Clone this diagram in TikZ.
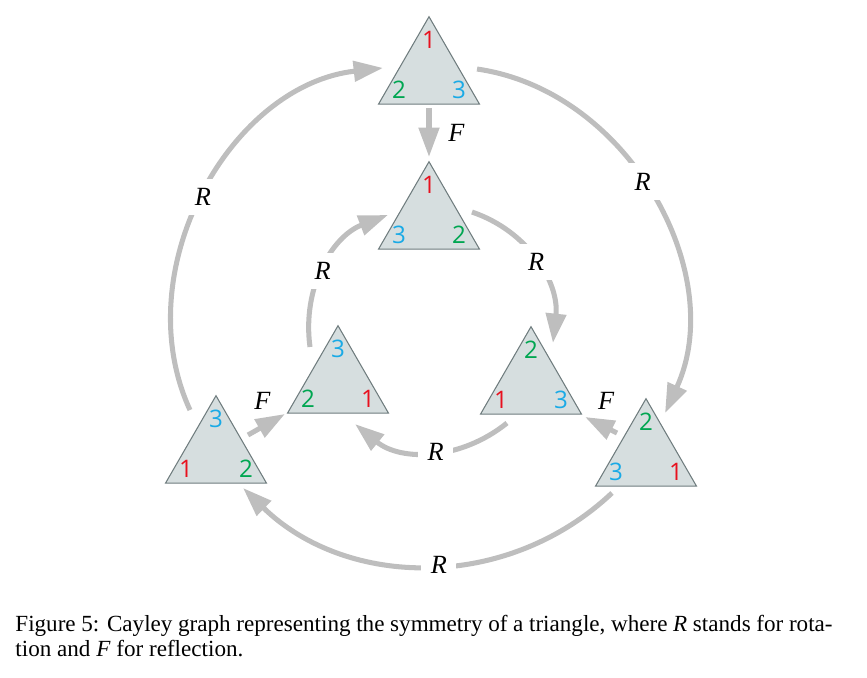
\documentclass[tikz,border=0pt]{standalone}
\usepackage{fontspec}
\setmainfont{Liberation Serif}
\newfontfamily\digitfont{Open Sans}
\usetikzlibrary{arrows.meta,shapes.geometric}
\definecolor{arrgray}{HTML}{BEBEBE}
\definecolor{trifill}{HTML}{D6DEDF}
\definecolor{triedge}{HTML}{6F7C7E}
\definecolor{dred}{HTML}{E8101E}
\definecolor{dgreen}{HTML}{00A651}
\definecolor{dcyan}{HTML}{1AAAE6}
\newcommand\cone{\textcolor{dred}{1}}
\newcommand\ctwo{\textcolor{dgreen}{2}}
\newcommand\cthree{\textcolor{dcyan}{3}}
\newcommand\mytri[6]{%
  \node[tri] (#1) at (#2,#3) {};
  \node[dig] (#1-t) at ([shift={(0,35)}]#1.center) {#4};
  \node[dig] (#1-l) at ([shift={(-30,-15)}]#1.center) {#5};
  \node[dig] (#1-r) at ([shift={(30,-15)}]#1.center) {#6};
}
\begin{document}
\begin{tikzpicture}[x=0.476pt,y=0.476pt,
  tri/.style={regular polygon, regular polygon sides=3, minimum size=55.5pt, inner sep=0pt, outer sep=0pt, draw=triedge, fill=trifill, line width=0.5pt},
  dig/.style={font=\digitfont\fontsize{11.5}{13}\selectfont, inner sep=0pt},
  arr/.style={draw=arrgray, line width=2.4pt, -{Triangle[length=14pt,width=9.5pt]}},
  lab/.style={fill=white, inner sep=4.5pt, font=\fontsize{12.5}{14}\selectfont\itshape},
  flab/.style={inner sep=0pt, font=\fontsize{12.5}{14}\selectfont\itshape},
  capt/.style={anchor=base west, inner sep=0pt, font=\fontsize{11}{13}\selectfont}
]
\useasboundingbox (0,0) rectangle (867,-678);

\mytri{To}{429}{-75}{\cone}{\ctwo}{\cthree}
\mytri{Ti}{429}{-220}{\cone}{\cthree}{\ctwo}
\mytri{Li}{338}{-384}{\cthree}{\ctwo}{\cone}
\mytri{Ri}{531}{-385}{\ctwo}{\cone}{\cthree}
\mytri{BLo}{216}{-454}{\cthree}{\cone}{\ctwo}
\mytri{BRo}{646}{-457}{\ctwo}{\cthree}{\cone}

% outer R arcs
\draw[arr] ([shift={(120.6:51.1)}]BLo.center) to[out=114.7,in=186.4]
  node[lab,pos=.49] (rA) {R} ([shift={(171.3:46.5)}]To.center);
\draw[arr] ([shift={(7.1:48.4)}]To.center) to[out=-8.2,in=65.4]
  node[lab,pos=.46] (rB) {R} ([shift={(66.6:47.9)}]BRo.center);
\draw[arr] ([shift={(226.6:49.5)}]BRo.center) to[out=223.3,in=-44.2]
  node[lab,pos=.47] (rC) {R} ([shift={(-51.5:43.4)}]BLo.center);

% inner R arcs
\draw[arr] ([shift={(127.1:46.4)}]Li.center) to[out=97.9,in=200.9]
  node[lab,pos=.47] (rD) {R} ([shift={(173:41.3)}]Ti.center);
\draw[arr] ([shift={(10.5:43.7)}]Ti.center) to[out=-18.7,in=83.9]
  node[lab,pos=.5] (rE) {R} ([shift={(62.4:47.4)}]Ri.center);
\draw[arr] ([shift={(237.7:45)}]Ri.center) to[out=218.9,in=-39.3]
  node[lab,pos=.47] (rF) {R} ([shift={(-67:43.5)}]Li.center);

% F arrows
\draw[arr] ([shift={(-90:33)}]To.center) -- 
  node[flab,pos=.5,right=8pt] (fA) {F} ([shift={(90:63)}]Ti.center);
\draw[arr] ([shift={(30.7:37.2)}]BLo.center) --
  node[flab,pos=.5,above=6pt,xshift=-2pt] (fB) {F} ([shift={(209.5:60.9)}]Li.center);
\draw[arr] ([shift={(140.4:37.6)}]BRo.center) --
  node[flab,pos=.5,above=6pt,xshift=2.4pt] (fC) {F} ([shift={(-30.6:62.8)}]Ri.center);

% caption
\node[capt] (cap1) at (15,-631) {\makebox[389pt][s]{Figure 5: Cayley graph representing the symmetry of a triangle, where \textit{R} stands for rota-}};
\node[capt] (cap2) at (15,-656) {tion and \textit{F} for reflection.};
\end{tikzpicture}
\end{document}
